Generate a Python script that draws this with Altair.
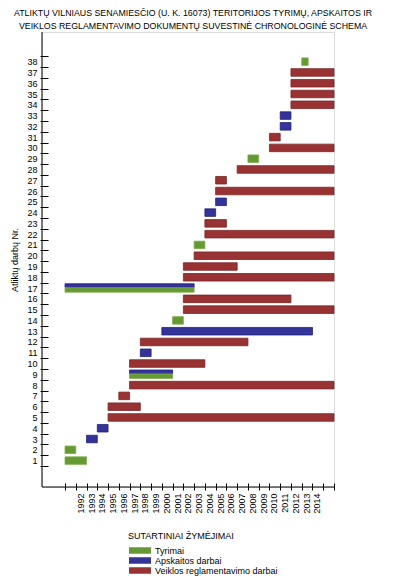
import altair as alt
import pandas as pd

# ---- data ----
items = [1, 2, 3, 4, 5, 6, 7, 8, 9, 9, 10, 11, 12, 13, 14, 15, 16, 17, 17, 18,
         19, 20, 21, 22, 23, 24, 25, 26, 27, 28, 29, 30, 31, 32, 33, 34, 35, 36, 37, 38]
starts = [1991, 1991, 1993, 1994, 1995, 1995, 1996, 1997, 1997, 1997, 1997, 1998, 1998, 2000,
          2001, 2002, 2002, 1991, 1991, 2002, 2002, 2003, 2003, 2004, 2004, 2004, 2005, 2005,
          2005, 2007, 2008, 2010, 2010, 2011, 2011, 2012, 2012, 2012, 2012, 2013]
ends = [1993, 1992, 1994, 1995, 2016, 1998, 1997, 2016, 2001, 2001, 2004, 1999, 2008, 2014,
        2002, 2016, 2012, 2003, 2003, 2016, 2007, 2016, 2004, 2016, 2006, 2005, 2006, 2016,
        2006, 2016, 2009, 2016, 2011, 2012, 2012, 2016, 2016, 2016, 2016, 2013.6]
T, A, V = "Tyrimai", "Apskaitos darbai", "Veiklos reglamentavimo darbai"
kinds = [T, T, A, A, V, V, V, V, A, T, V, A, V, A, T, V, V, A, T, V,
         V, V, T, V, V, A, A, V, V, V, T, V, V, A, A, V, V, V, V, T]

kind_order = [T, A, V]
fill_colors = ["#669933", "#333399", "#993333"]
stroke_colors = ["#7fae4c", "#22227a", "#7a2424"]

year_ticks = list(range(1991, 2017))
item_ticks = [k + 0.5 for k in range(39)]

title_lines = [
    "ATLIKTŲ VILNIAUS SENAMIESČIO (U. K. 16073) TERITORIJOS TYRIMŲ, APSKAITOS IR",
    "VEIKLOS REGLAMENTAVIMO DOKUMENTŲ SUVESTINĖ CHRONOLOGINĖ SCHEMA",
]

# ---- build table ----
df = pd.DataFrame({"item": items, "start": starts, "end": ends, "kind": kinds})
n = df.groupby("item")["item"].transform("count")
r = df.groupby("item").cumcount()
df["y0"] = df["item"] - 0.35
df["y1"] = df["item"] + 0.35
two = n == 2
df.loc[two & (r == 0), "y0"] = df["item"] + 0.06
df.loc[two & (r == 0), "y1"] = df["item"] + 0.40
df.loc[two & (r == 1), "y0"] = df["item"] - 0.38
df.loc[two & (r == 1), "y1"] = df["item"] + 0.03

W, H = 292, 455
FONT = "Liberation Sans"

x_scale = alt.Scale(domain=[1988.86, 2016], nice=False, zero=False)
y_scale = alt.Scale(domain=[-1.45, 40.75], nice=False, zero=False)

bars = alt.Chart(df).mark_rect(strokeWidth=0.8).encode(
    x=alt.X("start:Q", scale=x_scale,
            axis=alt.Axis(values=year_ticks, title=None, grid=False, domain=False,
                          labelExpr="datum.value >= 1992 && datum.value <= 2014 ? datum.value + '' : ''",
                          labelAngle=270, labelOffset=4.5, tickSize=7, offset=-4,
                          labelPadding=3, labelFlush=False, labelOverlap=False,
                          labelFont=FONT, labelFontSize=9, labelColor="black",
                          tickColor="black")),
    x2="end:Q",
    y=alt.Y("y0:Q", scale=y_scale,
            axis=alt.Axis(values=item_ticks, title="Atliktų darbų Nr.", grid=False, domain=False,
                          labelExpr="datum.value < 1 ? '' : format(datum.value - 0.5, 'd')",
                          labelOffset=5.4, tickSize=8, offset=-6, labelPadding=3,
                          labelOverlap=False, labelFlush=False,
                          labelFont=FONT, labelFontSize=9, labelColor="black",
                          tickColor="black", titleFont=FONT, titleFontSize=9,
                          titleFontWeight="normal", titleColor="black", titlePadding=7)),
    y2="y1:Q",
    fill=alt.Fill("kind:N", scale=alt.Scale(domain=kind_order, range=fill_colors),
                  legend=alt.Legend(orient="none", legendX=86, legendY=500,
                                    title="SUTARTINIAI ŽYMĖJIMAI", titleFont=FONT,
                                    titleFontSize=9, titleFontWeight="normal",
                                    titleColor="black", titlePadding=5,
                                    labelFont=FONT, labelFontSize=9, labelColor="black",
                                    symbolType="M-1,-0.93H5.29V0.93H-1Z", symbolSize=49,
                                    symbolStrokeWidth=0, symbolOpacity=1,
                                    labelOffset=18, rowPadding=0)),
    stroke=alt.Stroke("kind:N", scale=alt.Scale(domain=kind_order, range=stroke_colors),
                      legend=None),
)

one = pd.DataFrame({"a": [0]})
vline = alt.Chart(one).mark_rule(color="black", strokeWidth=1).encode(
    x=alt.value(0), y=alt.value(0), y2=alt.value(H))
hline = alt.Chart(one).mark_rule(color="black", strokeWidth=1).encode(
    x=alt.value(0), x2=alt.value(W), y=alt.value(H))

chart = alt.layer(bars, vline, hline).properties(
    width=W, height=H,
    title=alt.TitleParams(text=title_lines, font=FONT, fontSize=8.8, fontWeight="normal",
                          color="black", anchor="middle", dx=5, offset=1, lineHeight=13),
    autosize=alt.AutoSizeParams(type="none"),
    padding={"left": 34, "top": 24, "right": 46, "bottom": 92},
).configure_view(stroke=None).configure(background="white")

chart.save("out.html", embed_options={"renderer": "svg", "actions": False})
